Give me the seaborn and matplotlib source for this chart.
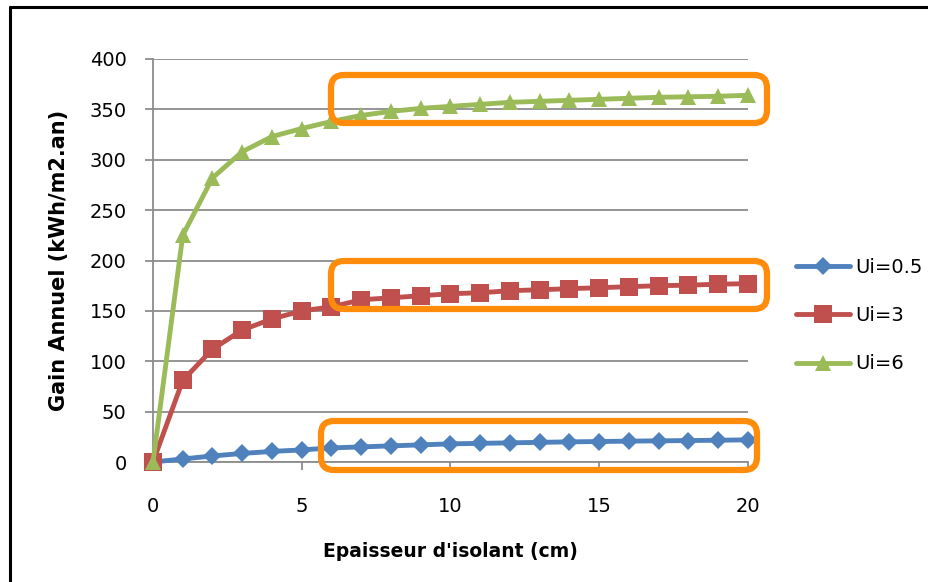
import numpy as np
import pandas as pd
import matplotlib
matplotlib.use("Agg")
import matplotlib.pyplot as plt
import seaborn as sns
from matplotlib.patches import FancyBboxPatch
from matplotlib.lines import Line2D

# data
epaisseur = list(range(0, 21))
gain_ui_05 = [0, 3, 6, 8.5, 10.5, 12, 14, 15, 16, 17, 18, 18.5, 19, 19.5, 20, 20.3, 20.7, 21, 21.3, 21.6, 22]
gain_ui_3 = [0, 81, 112, 131, 142, 150, 154, 161, 163, 165, 167, 168, 170, 171, 172, 173, 174, 175, 175.5, 176.5, 177]
gain_ui_6 = [0, 225, 282, 308, 323, 331, 338, 344, 348, 351, 353, 355, 357, 358, 359, 360, 361, 362, 362.5, 363, 364]
series_names = ["Ui=0.5", "Ui=3", "Ui=6"]
y_ticks = list(range(0, 401, 50))
x_ticks = [0, 5, 10, 15, 20]

colors = ["#4F81BD", "#C0504D", "#9BBB59"]
markers = ["D", "s", "^"]
msizes = [9, 13, 12]

sns.set_style("white")
plt.rcParams["font.family"] = ["DejaVu Sans"]
plt.rcParams["text.color"] = "black"
plt.rcParams["axes.labelcolor"] = "black"
plt.rcParams["xtick.labelcolor"] = "black"
plt.rcParams["ytick.labelcolor"] = "black"

data = pd.DataFrame({
    "ep": epaisseur * 3,
    "gain": gain_ui_05 + gain_ui_3 + gain_ui_6,
    "serie": [n for n in series_names for _ in epaisseur],
})

W, H = 929, 582
fig = plt.figure(figsize=(W / 100, H / 100), dpi=100)
ax = fig.add_axes([153 / W, 1 - 462 / H, (748 - 153) / W, (462 - 59) / H])

for name, col, mk, ms in zip(series_names, colors, markers, msizes):
    sub = data[data["serie"] == name]
    sns.lineplot(x="ep", y="gain", data=sub, ax=ax, color=col, marker=mk,
                 markersize=ms, markeredgewidth=0, linewidth=3.5, legend=False,
                 zorder=3, clip_on=False)

ax.set_xlim(0, 20)
ax.set_ylim(0, 400)
ax.set_xticks(x_ticks)
ax.set_yticks(y_ticks)
ax.yaxis.grid(True, color="#8C8C8C", linewidth=1.3)
ax.xaxis.grid(False)
for s in ["top", "right"]:
    ax.spines[s].set_visible(False)
for s in ["left", "bottom"]:
    ax.spines[s].set_color("#8C8C8C")
    ax.spines[s].set_linewidth(1.3)
ax.tick_params(axis="y", length=6, width=1.3, color="#8C8C8C", pad=13, labelsize=14, left=True)
ax.tick_params(axis="x", length=6, width=1.3, color="#8C8C8C", pad=19, labelsize=14, bottom=True)

ax.set_xlabel("Epaisseur d'isolant (cm)", fontsize=13.5, fontweight="bold", labelpad=19)
ax.set_ylabel("Gain Annuel (kWh/m2.an)", fontsize=15, fontweight="bold", labelpad=15)

# legend at the right
handles = [Line2D([], [], color=c, marker=m, markersize=s, markeredgewidth=0, linewidth=3.5)
           for c, m, s in zip(colors, markers, msizes)]
fig.legend(handles, series_names, loc="upper left", bbox_to_anchor=(796 / W, 1 - 258 / H),
           frameon=False, fontsize=14, handlelength=2.8, handletextpad=0.25,
           labelspacing=1.5, borderpad=0, borderaxespad=0)

# orange highlight boxes (pixel positions of the annotations)
boxes = [(331, 75, 767, 123), (331, 261, 767, 309), (321, 421, 757, 470)]
for x0, y0, x1, y1 in boxes:
    p = FancyBboxPatch((x0 / 100, (H - y1) / 100), (x1 - x0) / 100, (y1 - y0) / 100,
                       boxstyle="round,pad=0,rounding_size=0.13",
                       transform=fig.dpi_scale_trans, fill=False,
                       edgecolor="#FF8C0A", linewidth=4.5, zorder=10)
    fig.patches.append(p)

# outer frame (left and top edges visible)
fig.add_artist(Line2D([10 / W, 10 / W], [0, 1 - 7 / H], transform=fig.transFigure,
                      color="black", linewidth=2.2))
fig.add_artist(Line2D([10 / W, 1], [1 - 7 / H, 1 - 7 / H], transform=fig.transFigure,
                      color="black", linewidth=2.2))

fig.savefig("out.png", dpi=100)
